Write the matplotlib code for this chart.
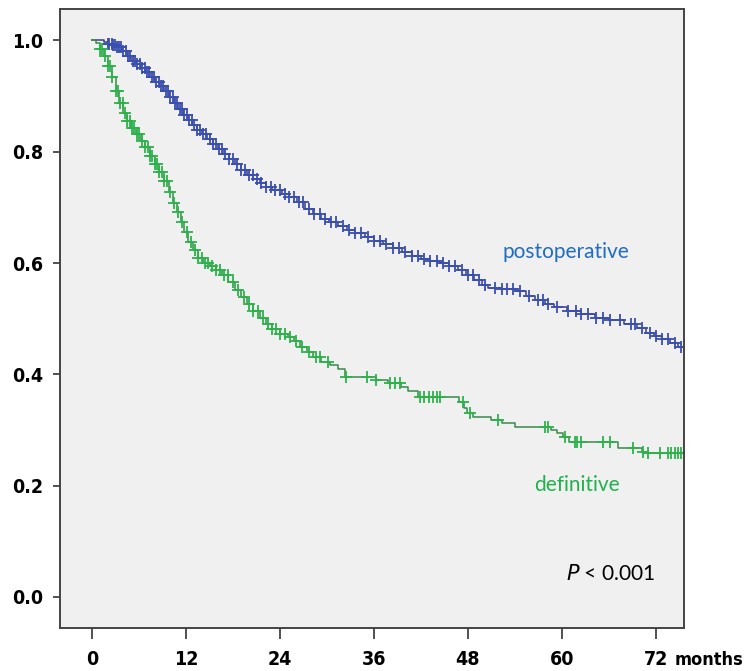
import numpy as np
import matplotlib
matplotlib.use("Agg")
import matplotlib.pyplot as plt

# Kaplan-Meier step data (months, survival)
post_t = [0, 1.5, 2.0, 2.6, 3.2, 3.8, 4.4, 5.0, 5.6, 6.2, 6.8, 7.4, 8.0, 8.6, 9.2, 9.8,
          10.4, 11.0, 11.6, 12.2, 12.8, 13.4, 14.0, 14.7, 15.4, 16.1, 16.8, 17.5, 18.2,
          19.0, 19.8, 20.6, 21.4, 22.2, 23.0, 24.2, 25.2, 26.2, 27.2, 28.2, 29.2, 30.3,
          31.4, 32.5, 33.6, 34.8, 36.0, 37.2, 38.4, 39.6, 40.8, 42.0, 43.2, 44.4, 45.6,
          46.8, 47.8, 48.8, 49.8, 50.6, 52.2, 54.2, 55.4, 56.6, 57.8, 59.0, 60.6, 62.4,
          64.2, 66.0, 68.0, 69.6, 70.8, 71.8, 72.8, 73.8, 74.8]
post_s = [1.0, 0.997, 0.994, 0.991, 0.988, 0.982, 0.973, 0.964, 0.958, 0.951, 0.943, 0.934,
          0.926, 0.918, 0.909, 0.899, 0.888, 0.877, 0.866, 0.857, 0.849, 0.840, 0.832,
          0.823, 0.814, 0.805, 0.796, 0.787, 0.778, 0.768, 0.759, 0.751, 0.744, 0.737,
          0.731, 0.725, 0.718, 0.709, 0.698, 0.688, 0.680, 0.673, 0.666, 0.660, 0.654,
          0.647, 0.640, 0.634, 0.627, 0.620, 0.613, 0.608, 0.604, 0.600, 0.594, 0.587,
          0.578, 0.570, 0.561, 0.556, 0.554, 0.549, 0.541, 0.533, 0.527, 0.521, 0.514,
          0.508, 0.502, 0.497, 0.491, 0.484, 0.475, 0.469, 0.463, 0.457, 0.449]
post_cens = [2.0, 2.2, 2.5, 2.7, 2.9, 3.2, 3.5, 3.7, 4.0, 4.3, 4.6, 4.9, 5.2, 5.5, 5.8, 6.1,
             6.4, 6.7, 7.0, 7.3, 7.6, 7.9, 8.2, 8.5, 8.8, 9.1, 9.4, 9.7, 10.0, 10.3, 10.6,
             10.9, 11.2, 11.5, 11.8, 12.1, 12.4, 12.7, 13.0, 13.4, 13.8, 14.2, 14.6, 15.0,
             15.4, 15.8, 16.2, 16.6, 17.0, 17.5, 18.0, 18.5, 19.0, 19.5, 20.0, 20.5, 21.0,
             21.6, 22.2, 22.8, 23.4, 24.0, 24.6, 25.2, 25.8, 26.4, 27.0, 27.7, 28.4, 29.1,
             29.8, 30.5, 31.2, 32.0, 32.8, 33.6, 34.4, 35.2, 36.0, 36.8, 37.6, 38.4, 39.2,
             40.0, 40.8, 41.6, 42.4, 43.2, 44.0, 44.8, 45.6, 46.4, 47.2, 48.0, 48.6, 49.4,
             50.2, 51.4, 52.4, 53.0, 53.8, 54.6, 55.8, 57.0, 57.6, 58.2, 59.4, 60.8, 61.8,
             62.5, 63.4, 64.4, 65.2, 66.2, 67.4, 68.8, 69.4, 70.2, 71.2, 72.0, 72.8, 73.6,
             74.4, 75.2]

def_t = [0, 0.5, 1.0, 1.5, 2.0, 2.5, 3.0, 3.5, 4.0, 4.5, 5.0, 5.6, 6.2, 6.8, 7.4, 8.0, 8.6,
         9.2, 9.8, 10.3, 10.8, 11.3, 11.8, 12.3, 12.9, 13.5, 14.2, 15.0, 15.8, 16.6, 17.4,
         18.2, 19.0, 19.8, 20.6, 21.4, 22.2, 23.0, 24.0, 25.0, 25.8, 26.6, 27.4, 28.2,
         29.3, 30.4, 31.4, 32.3, 36.2, 37.8, 39.4, 40.4, 41.6, 46.9, 47.5, 47.9, 48.6,
         51.0, 52.4, 54.0, 58.6, 59.4, 60.1, 60.9, 67.2, 70.2, 70.8]
def_s = [1.0, 0.995, 0.985, 0.972, 0.955, 0.935, 0.910, 0.888, 0.870, 0.855, 0.843, 0.832,
         0.820, 0.808, 0.793, 0.778, 0.764, 0.748, 0.728, 0.708, 0.692, 0.674, 0.655,
         0.638, 0.623, 0.610, 0.601, 0.594, 0.587, 0.578, 0.566, 0.552, 0.539, 0.527,
         0.514, 0.501, 0.491, 0.481, 0.473, 0.467, 0.460, 0.450, 0.440, 0.431, 0.423,
         0.416, 0.409, 0.395, 0.390, 0.385, 0.378, 0.370, 0.360, 0.350, 0.340, 0.331,
         0.323, 0.318, 0.313, 0.305, 0.300, 0.294, 0.287, 0.279, 0.268, 0.261, 0.259]
def_cens = [1.0, 1.3, 1.6, 2.0, 2.3, 2.6, 3.0, 3.3, 3.6, 3.9, 4.2, 4.5, 4.8, 5.1, 5.4, 5.7,
            6.0, 6.4, 6.8, 7.1, 7.4, 7.7, 8.0, 8.3, 8.6, 8.9, 9.2, 9.6, 10.0, 10.5, 11.0,
            11.5, 12.1, 12.6, 13.1, 13.5, 14.0, 14.4, 14.8, 15.3, 15.8, 16.3, 16.8, 17.3,
            18.0, 18.7, 19.4, 20.0, 20.6, 21.2, 21.8, 22.5, 23.0, 23.5, 24.0, 24.6, 25.3,
            26.0, 26.8, 27.7, 28.6, 29.1, 30.1, 32.4, 35.1, 36.3, 38.0, 38.7, 39.3, 41.9,
            42.4, 43.0, 43.5, 44.0, 44.4, 47.4, 48.3, 51.8, 57.8, 58.2, 60.4, 61.7, 62.0,
            62.4, 65.2, 66.1, 69.1, 70.4, 71.0, 72.5, 73.6, 74.0, 74.4, 74.8, 75.2]

x_ticks = [0, 12, 24, 36, 48, 60, 72]
y_ticks = [0.0, 0.2, 0.4, 0.6, 0.8, 1.0]

def surv_at(times, surv, when):
    idx = np.searchsorted(times, when, side='right') - 1
    return np.array(surv)[idx]

fig = plt.figure(figsize=(7.48, 6.71), dpi=100)
ax = fig.add_axes([0.0802, 0.0641, 0.8342, 0.9225])
ax.set_facecolor('#f0f0f0')

x_end = 75.6
ax.step(post_t + [x_end], post_s + [post_s[-1]], where='post', color='#363c8c', lw=1.1)
ax.plot(post_cens, surv_at(post_t, post_s, post_cens), '+', color='#3a4fae',
        ms=8, mew=1.3)
ax.step(def_t + [x_end], def_s + [def_s[-1]], where='post', color='#3a8a4c', lw=1.1)
ax.plot(def_cens, surv_at(def_t, def_s, def_cens), '+', color='#2db24b',
        ms=8, mew=1.3)

ax.set_xlim(-4.1, 75.6)
ax.set_ylim(-0.0557, 1.0566)

tick_font = dict(family='DejaVu Sans', fontstretch='condensed', fontweight='bold',
                 fontsize=14)
ax.set_xticks(x_ticks)
ax.set_xticklabels([str(v) for v in x_ticks], **tick_font)
ax.set_yticks(y_ticks)
ax.set_yticklabels(['%.1f' % v for v in y_ticks], **tick_font)
ax.tick_params(axis='x', length=8, width=1.2, pad=8, color='#333333')
ax.tick_params(axis='y', length=5, width=1.2, pad=7, color='#333333')
months_font = dict(tick_font, fontsize=13)
ax.annotate('months', xy=(72, 0), xycoords=('data', 'axes fraction'),
            xytext=(13.5, -23), textcoords='offset points', va='center', ha='left',
            **months_font)

for side in ['left', 'bottom', 'top', 'right']:
    ax.spines[side].set_linewidth(1.4)
    ax.spines[side].set_color('#444444')

ax.text(0.811, 0.607, 'postoperative', transform=ax.transAxes, color='#1f6cc4',
        fontsize=15, family='Lato', ha='center', va='center')
ax.text(0.829, 0.231, 'definitive', transform=ax.transAxes, color='#22b14c',
        fontsize=15, family='Lato', ha='center', va='center')
ax.text(0.954, 0.087, '$\\it{P}$ < 0.001', transform=ax.transAxes, color='black',
        fontsize=15, family='Lato', ha='right', va='center')

fig.savefig('out.png', dpi=100)
